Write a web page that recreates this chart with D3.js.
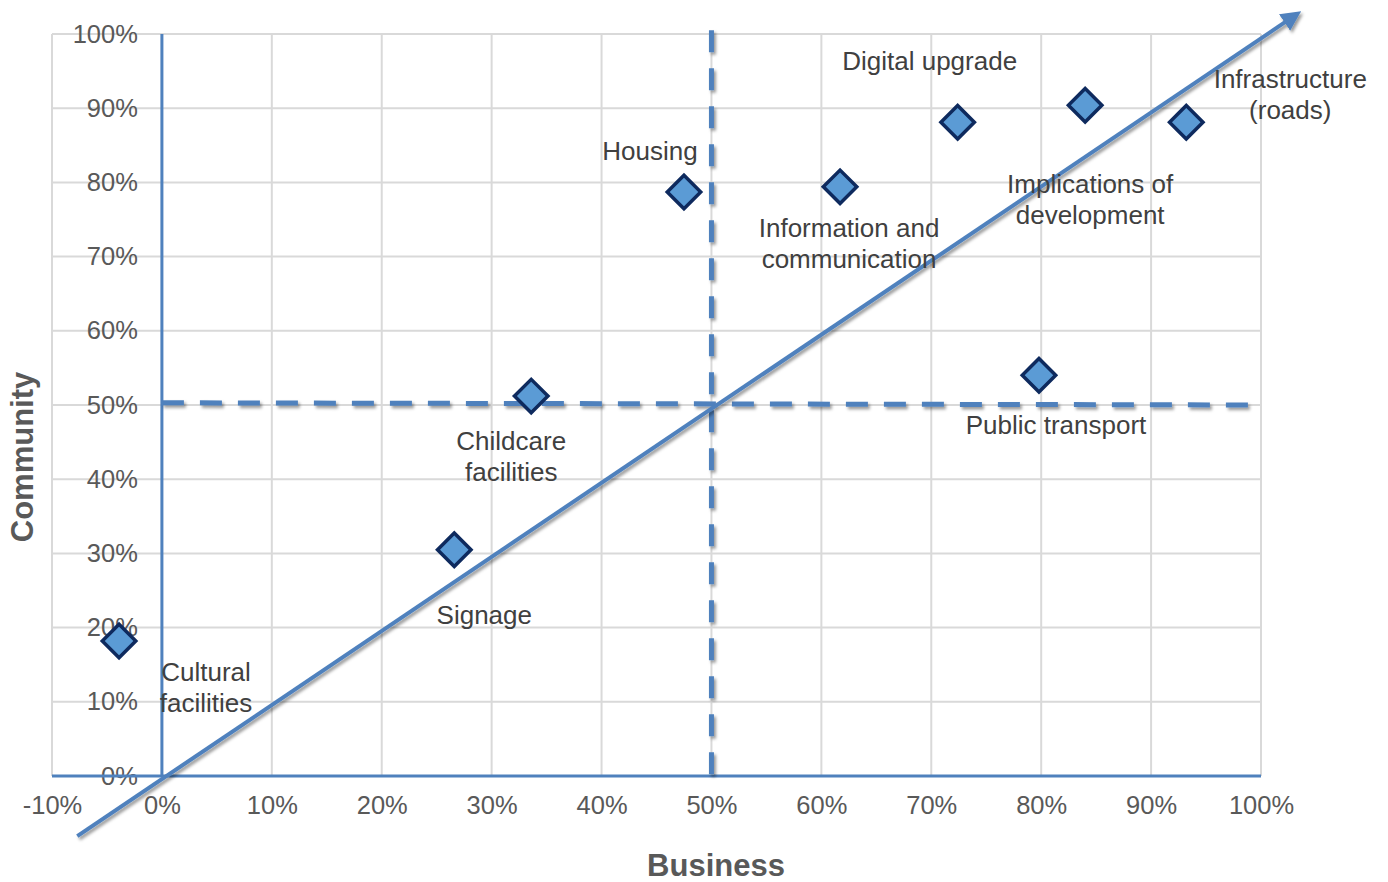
<!DOCTYPE html>
<html>
<head>
<meta charset="utf-8">
<script src="https://cdn.jsdelivr.net/npm/d3@7"></script>
<style>
  body { margin: 0; background: #fff; }
  text { font-family: "Liberation Sans", Arial, sans-serif; }
</style>
</head>
<body>
<script>
// data
var names = ["Cultural facilities", "Signage", "Childcare facilities", "Housing",
  "Information and communication", "Digital upgrade", "Implications of development",
  "Infrastructure (roads)", "Public transport"];
var business = [-3.9, 26.6, 33.6, 47.5, 61.7, 72.4, 84.0, 93.2, 79.8];
var community = [18.2, 30.5, 51.2, 78.7, 79.4, 88.1, 90.4, 88.1, 54.0];
var xTicks = [-10, 0, 10, 20, 30, 40, 50, 60, 70, 80, 90, 100];
var yTicks = [0, 10, 20, 30, 40, 50, 60, 70, 80, 90, 100];
var arrowLine = [[-7.7, -8.1], [103.2, 102.6]];

// label layout (lines, offset in px from the marker)
var labelLayout = [
  { lines: ["Cultural", "facilities"], dx: 87, dy: 31 },
  { lines: ["Signage"], dx: 30, dy: 65 },
  { lines: ["Childcare", "facilities"], dx: -20, dy: 45 },
  { lines: ["Housing"], dx: -34, dy: -41 },
  { lines: ["Information and", "communication"], dx: 9, dy: 41 },
  { lines: ["Digital upgrade"], dx: -28, dy: -61 },
  { lines: ["Implications of", "development"], dx: 5, dy: 79 },
  { lines: ["Infrastructure", "(roads)"], dx: 104, dy: -43 },
  { lines: ["Public transport"], dx: 17, dy: 50 }
];

var margin = {top: 34, right: 127, bottom: 106, left: 52},
    width = 1388 - margin.left - margin.right,
    height = 882 - margin.top - margin.bottom;

var blue = "#4f81bd";

var svg = d3.select("body").append("svg")
    .attr("width", 1388)
    .attr("height", 882);

var defs = svg.append("defs");
var shadow = defs.append("filter").attr("id", "shadow")
    .attr("filterUnits", "userSpaceOnUse")
    .attr("x", -100).attr("y", -100).attr("width", 1600).attr("height", 1100);
shadow.append("feDropShadow")
    .attr("dx", 2).attr("dy", 2.5).attr("stdDeviation", 1.8)
    .attr("flood-color", "#000").attr("flood-opacity", 0.4);

defs.append("marker").attr("id", "arrow")
    .attr("viewBox", "0 0 10 10")
    .attr("refX", 7).attr("refY", 5)
    .attr("markerWidth", 5).attr("markerHeight", 5)
    .attr("orient", "auto")
  .append("path")
    .attr("d", "M0,0 L10,5 L0,10 Z")
    .attr("fill", blue);

var g = svg.append("g")
    .attr("transform", "translate(" + margin.left + "," + margin.top + ")");

var x = d3.scaleLinear().domain([-10, 100]).range([0, width]);
var y = d3.scaleLinear().domain([0, 100]).range([height, 0]);

// gridlines
g.append("g").selectAll("line").data(xTicks).enter().append("line")
    .attr("x1", d => x(d)).attr("x2", d => x(d))
    .attr("y1", 0).attr("y2", height)
    .attr("stroke", "#d9d9d9").attr("stroke-width", 2);
g.append("g").selectAll("line").data(yTicks).enter().append("line")
    .attr("x1", 0).attr("x2", width)
    .attr("y1", d => y(d)).attr("y2", d => y(d))
    .attr("stroke", "#d9d9d9").attr("stroke-width", 2);

// axes
var xAxis = g.append("g")
    .attr("transform", "translate(0," + height + ")")
    .call(d3.axisBottom(x).tickValues(xTicks).tickFormat(d => d + "%").tickSize(0).tickPadding(20));
xAxis.select(".domain").remove();
xAxis.selectAll("text").attr("font-size", 25.5).attr("fill", "#595959")
    .attr("font-family", "Liberation Sans, Arial, sans-serif");

var yAxis = g.append("g")
    .attr("transform", "translate(" + x(0) + ",0)")
    .call(d3.axisLeft(y).tickValues(yTicks).tickFormat(d => d + "%").tickSize(0).tickPadding(24));
yAxis.select(".domain").remove();
yAxis.selectAll("text").attr("font-size", 25.5).attr("fill", "#595959")
    .attr("font-family", "Liberation Sans, Arial, sans-serif");

// blue axis lines
g.append("line")
    .attr("x1", 0).attr("x2", width)
    .attr("y1", y(0)).attr("y2", y(0))
    .attr("stroke", blue).attr("stroke-width", 3);
g.append("line")
    .attr("x1", x(0)).attr("x2", x(0))
    .attr("y1", 0).attr("y2", y(0))
    .attr("stroke", blue).attr("stroke-width", 3);

// dashed quadrant lines
g.append("line")
    .attr("x1", x(0)).attr("x2", x(100))
    .attr("y1", y(50.3)).attr("y2", y(50))
    .attr("stroke", blue).attr("stroke-width", 5)
    .attr("stroke-dasharray", "22,16")
    .attr("filter", "url(#shadow)");
g.append("line")
    .attr("x1", x(50)).attr("x2", x(50))
    .attr("y1", y(100.5)).attr("y2", y(0))
    .attr("stroke", blue).attr("stroke-width", 5)
    .attr("stroke-dasharray", "22,16")
    .attr("filter", "url(#shadow)");

// diagonal arrow
g.append("line")
    .attr("x1", x(arrowLine[0][0])).attr("y1", y(arrowLine[0][1]))
    .attr("x2", x(arrowLine[1][0])).attr("y2", y(arrowLine[1][1]))
    .attr("stroke", blue).attr("stroke-width", 4)
    .attr("marker-end", "url(#arrow)")
    .attr("filter", "url(#shadow)");

// points
var pts = names.map((n, i) => ({ name: n, bx: business[i], cy: community[i], lab: labelLayout[i] }));
var diamond = d3.symbol().type(d3.symbolSquare).size(560);
g.append("g").selectAll("path").data(pts).enter().append("path")
    .attr("d", diamond)
    .attr("transform", d => "translate(" + x(d.bx) + "," + y(d.cy) + ") rotate(45)")
    .attr("fill", "#5b9bd5")
    .attr("stroke", "#0e2a5e")
    .attr("stroke-width", 3.5);

// labels
var labels = g.append("g").selectAll("text").data(pts).enter().append("text")
    .attr("text-anchor", "middle")
    .attr("font-size", 26)
    .attr("fill", "#404040")
    .attr("transform", d => "translate(" + (x(d.bx) + d.lab.dx) + "," + (y(d.cy) + d.lab.dy) + ")");
labels.selectAll("tspan").data(d => d.lab.lines).enter().append("tspan")
    .attr("x", 0)
    .attr("dy", (d, i) => i === 0 ? "0.35em" : 31)
    .text(d => d);

// axis titles
svg.append("text")
    .attr("x", 716).attr("y", 876)
    .attr("text-anchor", "middle")
    .attr("font-size", 31).attr("font-weight", "bold").attr("fill", "#595959")
    .text("Business");
svg.append("text")
    .attr("transform", "translate(33,457) rotate(-90)")
    .attr("text-anchor", "middle")
    .attr("font-size", 31).attr("font-weight", "bold").attr("fill", "#595959")
    .text("Community");
</script>
</body>
</html>
